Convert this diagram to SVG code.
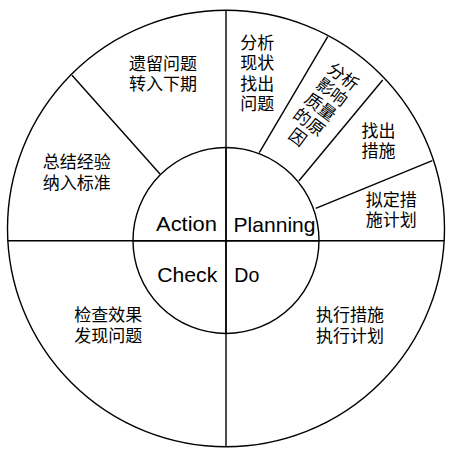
<svg xmlns="http://www.w3.org/2000/svg" width="456" height="455" viewBox="0 0 456 455">
<style>
.ln{stroke:#000;stroke-width:1.4;fill:none}
.zh{font-family:"Noto Sans CJK SC","Noto Sans",sans-serif;font-size:17px;fill:#000;text-anchor:middle}
.en{font-family:"Liberation Sans",Arial,sans-serif;font-size:21px;fill:#000}
</style>
<rect width="456" height="455" fill="#fff"/>
<g id="connectors">
<ellipse class="ln" cx="226" cy="228.5" rx="218.5" ry="218.3"/>
<line class="ln" x1="226" y1="10" x2="226" y2="447"/>
<line class="ln" x1="7.5" y1="240.7" x2="444.5" y2="240.7"/>
<line class="ln" x1="160" y1="174" x2="72" y2="75.3"/>
<line class="ln" x1="259.3" y1="152.7" x2="327.7" y2="36.7"/>
<line class="ln" x1="299" y1="180.7" x2="382.7" y2="80"/>
<line class="ln" x1="315.7" y1="208.3" x2="432.3" y2="160.7"/>
<circle class="ln" cx="226" cy="240.5" r="93" fill="#fff"/>
<line class="ln" x1="226" y1="147.5" x2="226" y2="333.5"/>
<line class="ln" x1="133" y1="240.7" x2="319" y2="240.7"/>
</g>
<g id="action"><text class="en" x="217" y="231" text-anchor="end" textLength="61" lengthAdjust="spacingAndGlyphs">Action</text></g>
<g id="planning"><text class="en" x="233.5" y="232.3" textLength="82" lengthAdjust="spacingAndGlyphs">Planning</text></g>
<g id="check"><text class="en" x="217.3" y="282.3" text-anchor="end" textLength="60" lengthAdjust="spacingAndGlyphs">Check</text></g>
<g id="do"><text class="en" x="234.3" y="282.3" textLength="25" lengthAdjust="spacingAndGlyphs">Do</text></g>
<g id="n-yiliu"><text class="zh" x="163" y="69.5"><tspan x="163">遗留问题</tspan><tspan x="163" y="89.5">转入下期</tspan></text></g>
<g id="n-fenxi"><text class="zh" x="257.3" y="48.7"><tspan x="257.3">分析</tspan><tspan x="257.3" y="69.2">现状</tspan><tspan x="257.3" y="89.7">找出</tspan><tspan x="257.3" y="110.2">问题</tspan></text></g>
<g id="n-yuanyin"><text class="zh" transform="translate(343.3,76.7) rotate(37)"><tspan x="0" y="6">分析</tspan><tspan x="0" y="25">影响</tspan><tspan x="0" y="44">质量</tspan><tspan x="0" y="63">的原</tspan><tspan x="0" y="82">因</tspan></text></g>
<g id="n-zhaochu"><text class="zh" x="378.5" y="136.8"><tspan x="378.5">找出</tspan><tspan x="378.5" y="156.8">措施</tspan></text></g>
<g id="n-niding"><text class="zh" x="391.2" y="206"><tspan x="391.2">拟定措</tspan><tspan x="391.2" y="226">施计划</tspan></text></g>
<g id="n-zongjie"><text class="zh" x="76.8" y="167.7"><tspan x="76.8">总结经验</tspan><tspan x="76.8" y="188.7">纳入标准</tspan></text></g>
<g id="n-jiancha"><text class="zh" x="108.3" y="321.3"><tspan x="108.3">检查效果</tspan><tspan x="108.3" y="342">发现问题</tspan></text></g>
<g id="n-zhixing"><text class="zh" x="350" y="321.3"><tspan x="350">执行措施</tspan><tspan x="350" y="342">执行计划</tspan></text></g>
</svg>
